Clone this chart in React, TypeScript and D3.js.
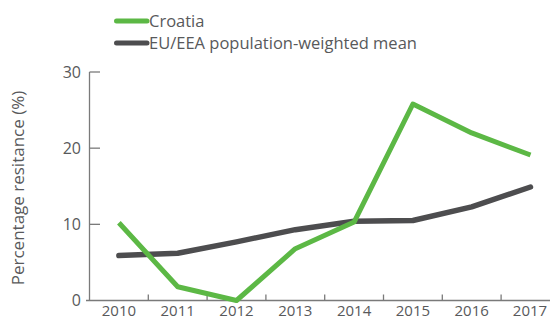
import React, { useEffect, useRef } from "react";
import * as d3 from "d3";

const years = ["2010", "2011", "2012", "2013", "2014", "2015", "2016", "2017"];
const croatia = [10.2, 1.8, 0, 6.8, 10.3, 25.8, 22.0, 19.1];
const euMean = [5.9, 6.2, 7.7, 9.3, 10.4, 10.5, 12.3, 14.9];
const yTicks = [0, 10, 20, 30];
const seriesNames = ["Croatia", "EU/EEA population-weighted mean"];

const W = 550;
const H = 320;
const FONT = "'Open Sans', 'Noto Sans', sans-serif";
const GREEN = "#5cb845";
const DARK = "#4d4d4f";
const AXIS = "#7a7a7a";
const TEXT = "#58595b";

export default function App() {
  const ref = useRef<SVGSVGElement>(null);

  useEffect(() => {
    const svg = d3.select(ref.current);
    svg.selectAll("*").remove();

    const x = d3.scaleBand<string>().domain(years).range([89.5, 89.5 + 58.8 * 8]);
    const y = d3.scaleLinear().domain([0, 30]).range([300.5, 72]);
    const cx = (d: string) => (x(d) as number) + x.bandwidth() / 2;

    // y axis
    svg.append("line")
      .attr("x1", 89.5).attr("x2", 89.5)
      .attr("y1", y(30)).attr("y2", y(0))
      .attr("stroke", AXIS).attr("stroke-width", 1.3);
    svg.selectAll(".ytick").data(yTicks.filter((t) => t > 0)).enter().append("line")
      .attr("x1", 89.5).attr("x2", 100)
      .attr("y1", (d) => y(d)).attr("y2", (d) => y(d))
      .attr("stroke", AXIS).attr("stroke-width", 1.3);
    svg.selectAll(".ylab").data(yTicks).enter().append("text")
      .attr("x", 81).attr("y", (d) => y(d) + 5.5)
      .attr("text-anchor", "end")
      .attr("font-family", FONT).attr("font-size", 16)
      .attr("fill", TEXT)
      .text((d) => String(d));

    // x axis
    svg.append("line")
      .attr("x1", 86).attr("x2", W)
      .attr("y1", y(0)).attr("y2", y(0))
      .attr("stroke", AXIS).attr("stroke-width", 1.3);
    svg.selectAll(".xtick").data(years.slice(1)).enter().append("line")
      .attr("x1", (d) => x(d) as number).attr("x2", (d) => x(d) as number)
      .attr("y1", y(0) - 6).attr("y2", y(0))
      .attr("stroke", AXIS).attr("stroke-width", 1.3);
    svg.selectAll(".xlab").data(years).enter().append("text")
      .attr("x", (d) => Math.min(cx(d), W - 20)).attr("y", 316)
      .attr("text-anchor", "middle")
      .attr("font-family", FONT).attr("font-size", 15)
      .attr("fill", TEXT)
      .text((d) => d);

    // y title
    svg.append("text")
      .attr("transform", `translate(24,${188}) rotate(-90)`)
      .attr("text-anchor", "middle")
      .attr("font-family", FONT).attr("font-size", 17)
      .attr("fill", TEXT)
      .text("Percentage resitance (%)");

    const line = d3.line<number>()
      .x((_, i) => cx(years[i]))
      .y((d) => y(d));

    svg.append("path").datum(euMean)
      .attr("d", line).attr("fill", "none")
      .attr("stroke", DARK).attr("stroke-width", 5.5)
      .attr("stroke-linecap", "round").attr("stroke-linejoin", "round");
    svg.append("path").datum(croatia)
      .attr("d", line).attr("fill", "none")
      .attr("stroke", GREEN).attr("stroke-width", 5)
      .attr("stroke-linejoin", "round");

    // legend
    const colors = [GREEN, DARK];
    const lg = svg.selectAll(".lg").data(seriesNames).enter().append("g")
      .attr("transform", (_, i) => `translate(115,${21 + i * 22})`);
    lg.append("line")
      .attr("x1", 1.5).attr("x2", 32)
      .attr("stroke", (_, i) => colors[i]).attr("stroke-width", 5)
      .attr("stroke-linecap", "round");
    lg.append("text")
      .attr("x", 34).attr("y", 6)
      .attr("font-family", FONT).attr("font-size", 16.5)
      .attr("fill", TEXT)
      .text((d) => d);
  }, []);

  return (
    <svg
      ref={ref}
      width={W}
      height={H}
      style={{ position: "absolute", left: 0, top: 0, background: "#fff" }}
    />
  );
}
